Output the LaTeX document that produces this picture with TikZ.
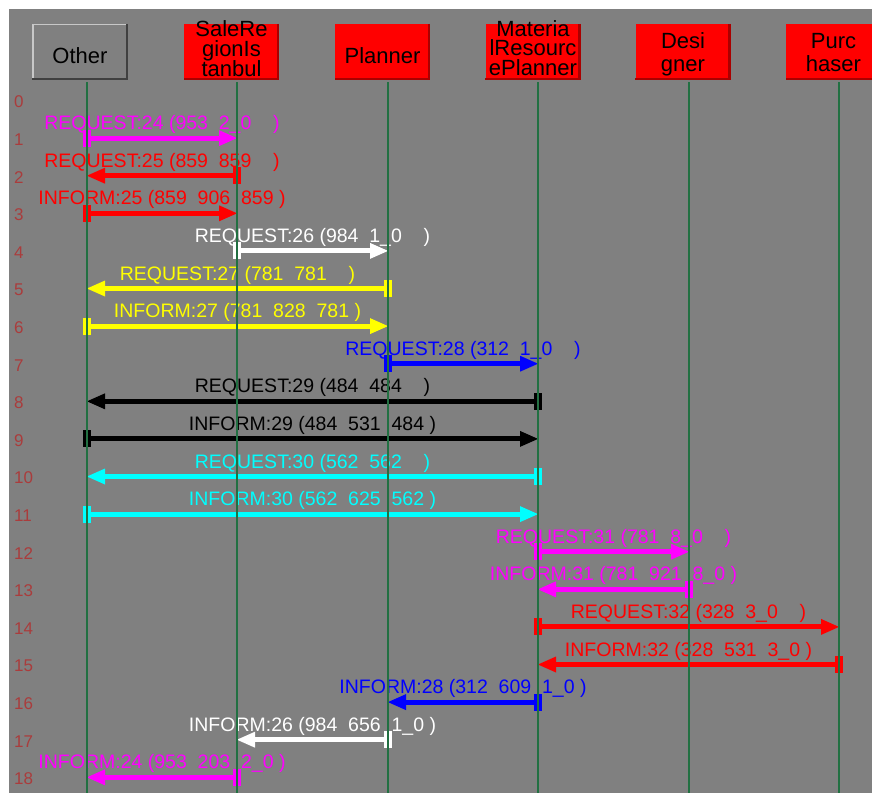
\documentclass[tikz,border=0pt]{standalone}
\usepackage{fontspec}
\setmainfont{Liberation Sans}
\usetikzlibrary{calc,arrows.meta}
\definecolor{bg}{RGB}{128,128,128}
\definecolor{lifec}{RGB}{34,112,66}
\definecolor{rownum}{RGB}{170,60,60}
\definecolor{mag}{RGB}{255,0,255}
\definecolor{rd}{RGB}{255,0,0}
\definecolor{yl}{RGB}{255,255,0}
\definecolor{bl}{RGB}{0,0,255}
\definecolor{cy}{RGB}{0,255,255}
\definecolor{wh}{RGB}{255,255,255}
\definecolor{bk}{RGB}{0,0,0}
\definecolor{redshade}{RGB}{170,0,0}
\definecolor{lightedge}{RGB}{200,200,200}
\definecolor{darkedge}{RGB}{64,64,64}

\newcommand\msg[5]{%
  \fill[#1] ($(#2|-#4)+(-4,-8.5)$) rectangle ($(#2|-#4)+(4,8.5)$);
  \draw[msgline,#1] (#2|-#4) -- (#3|-#4);
  \node[lbl,text=#1] (lbl#4) at ($(#2|-#4)!.5!(#3|-#4)+(0,-8.5)$) {#5};
}

\begin{document}
\begin{tikzpicture}[x=1pt,y=-1pt,
  msgline/.style={line width=5pt,-{Triangle[length=18pt,width=16pt,line width=0pt]}},
  lbl/.style={font=\fontsize{19.5}{19.5}\selectfont,inner sep=0pt,anchor=base},
  htxt/.style={font=\fontsize{22}{22}\selectfont,inner sep=0pt,anchor=base,text=black},
  rnum/.style={font=\fontsize{17}{17}\selectfont,inner sep=0pt,anchor=west,text=rownum},
  hbox/.style={minimum width=95pt,minimum height=56pt,inner sep=0pt},
  redbox/.style={hbox,fill=rd},
  greybox/.style={hbox,fill=bg},
  lifeline/.style={lifec,line width=2pt}]
\useasboundingbox (0,0) rectangle (872,793);
\fill[white] (0,0) rectangle (872,793);
\fill[bg] (9,9) rectangle (872,793);

% header boxes
\node[greybox] (bOther) at (80,52) {};
\draw[lightedge,line width=1.5pt] ($(bOther.south west)+(0.75,0)$) -- ($(bOther.north west)+(0.75,0.75)$) -- ($(bOther.north east)+(0,0.75)$);
\draw[darkedge,line width=2pt] ($(bOther.north east)+(-1,0)$) -- ($(bOther.south east)+(-1,-1)$) -- ($(bOther.south west)+(0,-1)$);
\foreach \b/\x in {bSale/231.5,bPlan/382.5,bMRP/533,bDes/683,bPur/833.5}{
  \node[redbox] (\b) at (\x,52) {};
  \draw[redshade,line width=2.5pt] ($(\b.north east)+(-1.25,0)$) -- ($(\b.south east)+(-1.25,-1.25)$) -- ($(\b.south west)+(0,-1.25)$);
}
\node[htxt] (tOther) at (80,63) {Other};
\node[htxt] (tSale1) at (231.5,36.5) {SaleRe};
\node[htxt] (tSale2) at (231.5,56.5) {gionIs};
\node[htxt] (tSale3) at (231.5,76) {tanbul};
\node[htxt] (tPlan) at (382.5,63) {Planner};
\node[htxt] (tMRP1) at (533,36.5) {Materia};
\node[htxt] (tMRP2) at (533,55.5) {lResourc};
\node[htxt] (tMRP3) at (533,75) {ePlanner};
\node[htxt] (tDes1) at (683,48) {Desi};
\node[htxt] (tDes2) at (683,71) {gner};
\node[htxt] (tPur1) at (833.5,48) {Purc};
\node[htxt] (tPur2) at (833.5,71) {haser};

% lifeline tops and bottom
\coordinate (lO) at (87,82);
\coordinate (lS) at (237,82);
\coordinate (lP) at (388,82);
\coordinate (lM) at (538,82);
\coordinate (lD) at (689,82);
\coordinate (lU) at (839,82);
\coordinate (bot) at (0,793);

% rows
\foreach \k in {0,...,18}{
  \coordinate (r\k) at (0,{100.5+37.6*\k});
  \node[rnum] (n\k) at (14,{102+37.6*\k}) {\k};
}

% messages
\msg{mag}{lO}{lS}{r1}{REQUEST:24 (953\ \ 2\_0\ \ \ \ )}
\msg{rd}{lS}{lO}{r2}{REQUEST:25 (859\ \ 859\ \ \ \ )}
\msg{rd}{lO}{lS}{r3}{INFORM:25 (859\ \ 906\ \ 859 )}
\msg{wh}{lS}{lP}{r4}{REQUEST:26 (984\ \ 1\_0\ \ \ \ )}
\msg{yl}{lP}{lO}{r5}{REQUEST:27 (781\ \ 781\ \ \ \ )}
\msg{yl}{lO}{lP}{r6}{INFORM:27 (781\ \ 828\ \ 781 )}
\msg{bl}{lP}{lM}{r7}{REQUEST:28 (312\ \ 1\_0\ \ \ \ )}
\msg{bk}{lM}{lO}{r8}{REQUEST:29 (484\ \ 484\ \ \ \ )}
\msg{bk}{lO}{lM}{r9}{INFORM:29 (484\ \ 531\ \ 484 )}
\msg{cy}{lM}{lO}{r10}{REQUEST:30 (562\ \ 562\ \ \ \ )}
\msg{cy}{lO}{lM}{r11}{INFORM:30 (562\ \ 625\ \ 562 )}
\msg{mag}{lM}{lD}{r12}{REQUEST:31 (781\ \ 8\_0\ \ \ \ )}
\msg{mag}{lD}{lM}{r13}{INFORM:31 (781\ \ 921\ \ 8\_0 )}
\msg{rd}{lM}{lU}{r14}{REQUEST:32 (328\ \ 3\_0\ \ \ \ )}
\msg{rd}{lU}{lM}{r15}{INFORM:32 (328\ \ 531\ \ 3\_0 )}
\msg{bl}{lM}{lP}{r16}{INFORM:28 (312\ \ 609\ \ 1\_0 )}
\msg{wh}{lP}{lS}{r17}{INFORM:26 (984\ \ 656\ \ 1\_0 )}
\msg{mag}{lS}{lO}{r18}{INFORM:24 (953\ \ 203\ \ 2\_0 )}

% lifelines on top
\foreach \l in {lO,lS,lP,lM,lD,lU}{
  \draw[lifeline] (\l) -- (\l|-bot);
}
\end{tikzpicture}
\end{document}
